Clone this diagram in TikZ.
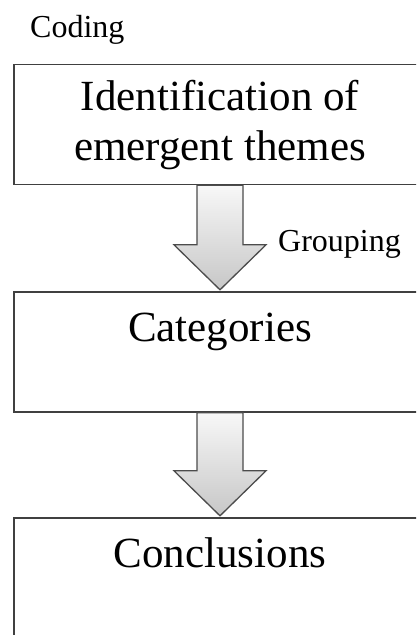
\documentclass[tikz,border=0pt]{standalone}
\usepackage{fontspec}
\setmainfont{Liberation Serif}
\usetikzlibrary{calc}

\begin{document}
\begin{tikzpicture}[x=1pt,y=-1pt,
		stagebox/.style={draw=black!75, line width=1.4pt, fill=white, minimum width=412pt, minimum height=120pt, inner sep=0pt, align=center, font=\fontsize{43}{50}\selectfont},
		flowarrow/.style={draw=black!70, line width=1.3pt, top color=black!3, bottom color=black!22},
		sidelabel/.style={inner sep=0pt, font=\fontsize{32}{36}\selectfont}]
		\useasboundingbox[fill=white] (0,0) rectangle (416,635);
		\clip (0,0) rectangle (416,635);

		\node[sidelabel, anchor=base west] (coding) at (30,37) {Coding};

		\node[stagebox] (themes) at (220,124.5) {Identification of\\emergent themes};
		\node[stagebox] (categories) at (220,352) {Categories\\\mbox{}};
		\node[stagebox] (conclusions) at (220,578) {Conclusions\\\mbox{}};

		\foreach \from/\to in {themes/categories, categories/conclusions}
			\draw[flowarrow] ($(\from.south)+(-23,0)$) -- ($(\to.north)+(-23,-46.5)$) -- ($(\to.north)+(-46,-46.5)$)
				-- ($(\to.north)+(0,-1.5)$) -- ($(\to.north)+(46,-46.5)$) -- ($(\to.north)+(23,-46.5)$) -- ($(\from.south)+(23,0)$) -- cycle;

		\node[sidelabel, anchor=base west] (grouping) at (278,251) {Grouping};

	\end{tikzpicture}
\end{document}
